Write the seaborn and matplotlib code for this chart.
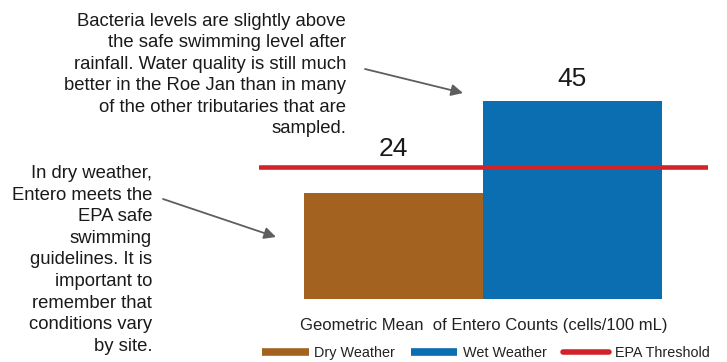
import matplotlib
matplotlib.use("Agg")
import matplotlib.pyplot as plt
from matplotlib.lines import Line2D
import seaborn as sns
import pandas as pd

# Geometric mean Entero counts (cells/100 mL)
conditions = ["Dry Weather", "Wet Weather"]
entero_means = [24, 45]
epa_threshold = 30

bar_colors = ["#A3621F", "#0A6EB0"]
threshold_color = "#D2232A"
arrow_color = "#5E5E5E"
text_color = "#1A1A1A"

dry_note = ("In dry weather,\nEntero meets the\nEPA safe\nswimming\nguidelines. It is\n"
            "important to\nremember that\nconditions vary\nby site.")
wet_note = ("Bacteria levels are slightly above\nthe safe swimming level after\n"
            "rainfall. Water quality is still much\nbetter in the Roe Jan than in many\n"
            "of the other tributaries that are\nsampled.")

sns.set_style("white")
plt.rcParams["font.family"] = ["Liberation Sans", "DejaVu Sans"]

W, H = 727, 362
fig = plt.figure(figsize=(W / 100, H / 100), dpi=100)

# axes placed in pixel terms: plot area spans the threshold line
ax_left, ax_right, ax_bottom, ax_top = 259, 708, 299, 60
ax = fig.add_axes([ax_left / W, 1 - ax_bottom / H,
                   (ax_right - ax_left) / W, (ax_bottom - ax_top) / H])

df = pd.DataFrame({"condition": conditions, "mean": entero_means})
sns.barplot(data=df, x="condition", y="mean", hue="condition",
            palette=bar_colors, width=1.0, legend=False, ax=ax,
            saturation=1.0, linewidth=0)

bar_px = 179.0
ax.set_xlim(-0.5 - 45 / bar_px, 1.5 + 46 / bar_px)
ax.set_ylim(0, (ax_bottom - ax_top) / 4.4)
ax.axhline(epa_threshold, color=threshold_color, lw=3.3, zorder=3)

# value labels above each bar
label_offsets = [44, 22]
for i, v in enumerate(entero_means):
    ax.annotate(f"{v}", xy=(i, v), xytext=(0, label_offsets[i] * 0.72),
                textcoords="offset points", ha="center", va="center",
                fontsize=19, color=text_color)

ax.set_xticks([])
ax.set_yticks([])
ax.set_xlabel("Geometric Mean  of Entero Counts (cells/100 mL)",
              fontsize=12.0, color="#222222", labelpad=14)
ax.set_ylabel("")
for s in ax.spines.values():
    s.set_visible(False)

# explanatory notes with arrows
fig.text(346 / W, 1 - 75 / H, wet_note, ha="right", va="center",
         multialignment="right", fontsize=13.3, color=text_color, linespacing=1.35)
fig.text(152 / W, 1 - 260 / H, dry_note, ha="right", va="center",
         multialignment="right", fontsize=13.3, color=text_color, linespacing=1.35)

def arrow(x0, y0, x1, y1):
    fig.add_artist(matplotlib.patches.FancyArrowPatch(
        (x0 / W, 1 - y0 / H), (x1 / W, 1 - y1 / H),
        transform=fig.transFigure, arrowstyle="-|>,head_length=7,head_width=3.5",
        color=arrow_color, lw=1.3, mutation_scale=1, shrinkA=0, shrinkB=0))

arrow(365, 69, 463, 93)
arrow(163, 199, 276, 237)

handles = [
    Line2D([0], [0], color=bar_colors[0], lw=5.5, solid_capstyle="butt"),
    Line2D([0], [0], color=bar_colors[1], lw=5.5, solid_capstyle="butt"),
    Line2D([0], [0], color=threshold_color, lw=4, solid_capstyle="round"),
]
fig.legend(handles, ["Dry Weather", "Wet Weather", "EPA Threshold"],
           loc="center", bbox_to_anchor=(486 / W, 1 - 353 / H), ncol=3,
           frameon=False, fontsize=10.4, handlelength=3.2, handletextpad=0.4,
           columnspacing=1.1, labelcolor="#222222")

fig.savefig("out.png", dpi=100, facecolor="white")
